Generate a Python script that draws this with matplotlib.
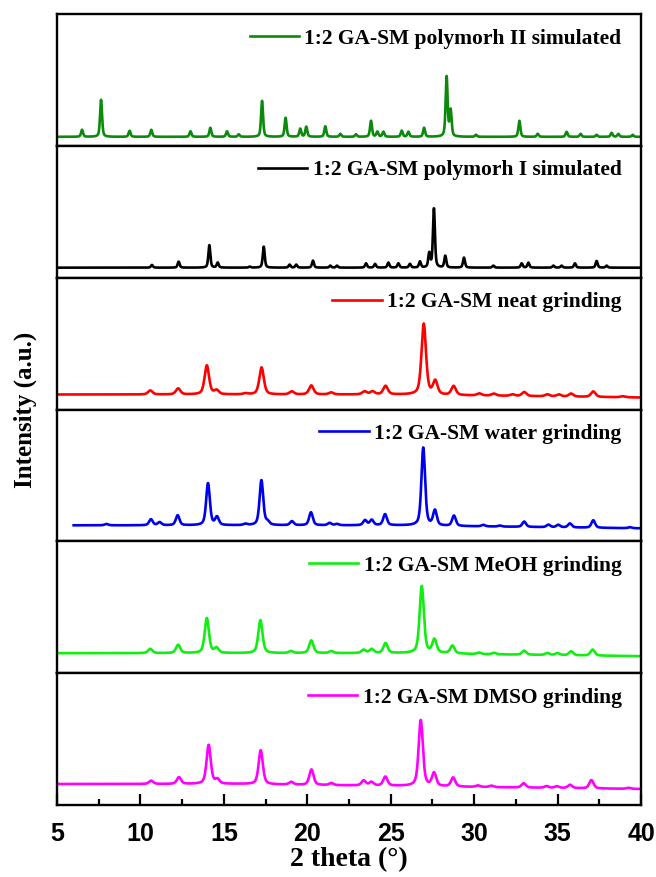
import matplotlib
matplotlib.use("Agg")
import matplotlib.pyplot as plt
from matplotlib.ticker import MultipleLocator
import numpy as np

SERIF = "Liberation Serif"
SANS = "Liberation Sans"

# --- peak tables: 2theta (deg) and intensity (a.u.) ---
sim2_tt = [6.50, 7.64, 9.35, 10.65, 13.00, 14.19, 15.19, 15.89, 17.29, 18.70,
           19.58, 19.94, 21.08, 21.98, 22.92, 23.82, 24.20, 24.56, 25.66, 26.06,
           27.00, 28.35, 28.59, 30.11, 32.71, 33.81, 35.54, 36.38, 37.34, 38.24,
           38.64, 39.50]
sim2_int = [7, 37, 6, 7, 5.5, 9, 5.5, 2.5, 36, 19,
            8, 10, 10.5, 3, 2.5, 16, 5, 5, 6, 5,
            9, 60, 26, 2, 16, 3, 5, 3, 2, 4,
            3, 2]

sim1_tt = [10.69, 12.29, 14.13, 14.63, 16.55, 17.39, 18.94, 19.34, 20.34, 21.38,
           21.78, 23.52, 24.06, 24.86, 25.46, 26.15, 26.75, 27.31, 27.59, 28.27,
           29.39, 31.15, 32.85, 33.25, 34.75, 35.24, 36.04, 37.34, 37.94]
sim1_int = [2.7, 6, 22.5, 5, 1, 21, 3, 3, 7, 2,
            2, 4.3, 3.7, 5, 4.3, 3.7, 6, 14, 59, 11.7,
            10, 2, 4.3, 5, 2, 2, 4.3, 6.7, 2]

neat_tt = [10.59, 12.26, 13.98, 14.56, 16.30, 17.26, 19.07, 20.24, 21.43, 23.43,
           23.91, 24.69, 26.98, 27.67, 28.77, 30.31, 31.18, 32.30, 33.00, 34.39,
           35.08, 35.81, 37.14, 38.90]
neat_int = [4, 6, 29, 4, 1, 27, 3, 9, 2, 3,
            3, 8.5, 71, 13.5, 9, 2, 2, 1.5, 4, 2,
            2, 3, 5.5, 1]
neat_bg_tt = [5, 25, 30, 40]
neat_bg = [0, 0, -1, -3]

water_tt = [7.96, 10.63, 11.15, 12.23, 14.05, 14.59, 16.29, 17.25, 17.62, 19.08,
            20.22, 21.34, 21.78, 23.46, 23.86, 24.66, 26.95, 27.65, 28.79, 30.55,
            31.55, 33.00, 34.45, 35.04, 35.74, 37.14, 39.34]
water_int = [1.3, 6, 3, 10, 42, 8, 1.3, 45, 3, 4,
             13, 2.3, 1.3, 5, 5.3, 11, 78, 15, 10.3, 1.5,
             1, 5.3, 2.5, 2.5, 4, 7.5, 1]
water_bg_tt = [6, 25, 30, 40]
water_bg = [0, 0, -1, -3]

meoh_tt = [10.59, 12.26, 13.98, 14.56, 17.19, 19.02, 20.24, 21.43, 23.38, 23.86,
           24.69, 26.86, 27.62, 28.70, 30.30, 31.20, 33.00, 34.39, 35.00, 35.81,
           37.10]
meoh_int = [4.3, 8.3, 35, 5, 33, 2, 12.7, 2, 3.3, 4,
            10, 67, 13.3, 7.7, 1.5, 1.5, 4, 2, 2, 4,
            6]
meoh_bg_tt = [5, 28, 30, 35, 40]
meoh_bg = [0, 0, -1, -2, -3]

dmso_tt = [10.64, 12.31, 14.09, 14.61, 17.21, 19.04, 20.25, 21.44, 23.38, 23.84,
           24.68, 26.80, 27.60, 28.74, 30.23, 31.03, 32.97, 34.34, 34.95, 35.75,
           37.03, 39.25]
dmso_int = [3.3, 6.7, 39, 4.3, 34, 2.7, 15.5, 2, 5, 3.5,
            9, 66, 13, 9, 1.5, 1.5, 4.3, 1.7, 1.7, 3.3,
            8.3, 1]
dmso_bg_tt = [5, 16, 20, 26, 30, 35, 40]
dmso_bg = [0, 0, -1, -2, -3, -4, -5]

labels = ["1:2 GA-SM polymorh II simulated", "1:2 GA-SM polymorh I simulated",
          "1:2 GA-SM neat grinding", "1:2 GA-SM water grinding",
          "1:2 GA-SM MeOH grinding", "1:2 GA-SM DMSO grinding"]

# --- drawing styles per panel ---
styles = [
    dict(color="#0b8a0b", fwhm=0.14, start=5.0, off=9),
    dict(color="#000000", fwhm=0.14, start=5.0, off=10),
    dict(color="#ff0000", fwhm=0.32, start=5.0, off=15),
    dict(color="#0000ee", fwhm=0.26, start=6.0, off=16),
    dict(color="#11ee11", fwhm=0.30, start=5.0, off=20),
    dict(color="#ff00ff", fwhm=0.30, start=5.0, off=21),
]
peaks = [(sim2_tt, sim2_int, None, None), (sim1_tt, sim1_int, None, None),
         (neat_tt, neat_int, neat_bg_tt, neat_bg),
         (water_tt, water_int, water_bg_tt, water_bg),
         (meoh_tt, meoh_int, meoh_bg_tt, meoh_bg),
         (dmso_tt, dmso_int, dmso_bg_tt, dmso_bg)]


def profile(x, centers, heights, fwhm, eta=0.5):
    """Pseudo-Voigt sum of the listed reflections."""
    y = np.zeros_like(x)
    s = fwhm / 2.3548
    g = fwhm / 2
    for c, h in zip(centers, heights):
        gauss = np.exp(-0.5 * ((x - c) / s) ** 2)
        lor = g ** 2 / ((x - c) ** 2 + g ** 2)
        y += h * (eta * lor + (1 - eta) * gauss)
    return y


plt.rcParams["font.family"] = SANS
plt.rcParams["font.weight"] = "bold"

W, H = 656, 877
fig = plt.figure(figsize=(W / 100, H / 100), dpi=100)
top_px, bot_px = 14, 805
left_px, right_px = 57, 641
ph = (bot_px - top_px) / 6
aw = right_px - left_px

axes = []
for i, (st, (tt, inten, bgx, bgy), lab) in enumerate(zip(styles, peaks, labels)):
    y0 = 1 - (top_px + (i + 1) * ph) / H
    ax = fig.add_axes([left_px / W, y0, aw / W, ph / H])
    x = np.linspace(st["start"], 40, 3500)
    y = profile(x, tt, inten, st["fwhm"])
    if bgx is not None:
        y += np.interp(x, bgx, bgy)
    ax.plot(x, y, color=st["color"], lw=1.9, label=lab)
    ax.set_xlim(5, 40)
    ax.set_ylim(-st["off"], ph - st["off"])
    ax.set_yticks([])
    for sp in ax.spines.values():
        sp.set_linewidth(1.7)
    # legend box sits ~13 px from the right frame, ~8 px below the top
    ax.legend(loc="upper right", frameon=False,
              bbox_to_anchor=(1 - 13 / aw, 1 - 8 / ph),
              prop={"family": SERIF, "weight": "bold", "size": 15.5},
              handlelength=2.3, handletextpad=0.25,
              borderaxespad=0, borderpad=0.3)
    if i < 5:
        ax.tick_params(axis="x", bottom=False, labelbottom=False)
    axes.append(ax)

axb = axes[-1]
axb.xaxis.set_major_locator(MultipleLocator(5))
axb.xaxis.set_minor_locator(MultipleLocator(2.5))
axb.tick_params(axis="x", which="major", direction="in", length=8, width=1.6,
                pad=12, labelsize=18)
axb.tick_params(axis="x", which="minor", direction="in", length=4.5, width=1.6)
axb.set_xlabel("2 theta (°)", family=SERIF, weight="bold", size=20, labelpad=1)

fig.text(0.038, 1 - (top_px + bot_px) / 2 / H, "Intensity (a.u.)", rotation=90,
         ha="center", va="center", family=SERIF, weight="bold", size=18)

fig.savefig("out.png", dpi=100)
